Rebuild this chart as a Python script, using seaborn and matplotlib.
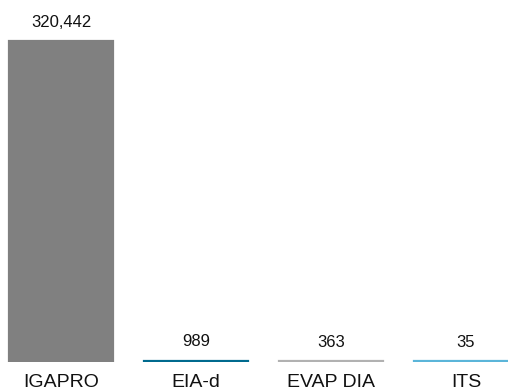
import matplotlib
matplotlib.use("Agg")
import matplotlib.pyplot as plt
import seaborn as sns
import pandas as pd

categories = ["IGAPRO", "EIA-d", "EVAP DIA", "ITS"]
values = [320442, 989, 363, 35]
colors = ["#808080", "#006a8e", "#b1b1b1", "#5bb5d9"]

sns.set_theme(style="white")
plt.rcParams["font.family"] = ["Liberation Sans", "DejaVu Sans"]

df = pd.DataFrame({"cat": categories, "val": values})

W, H = 508, 387
fig = plt.figure(figsize=(W / 100, H / 100), dpi=100)
spacing = 135.0
left_px = 61 - spacing / 2
bottom_px = H - 361.5
ax = fig.add_axes([left_px / W, bottom_px / H, 4 * spacing / W, 361.5 / H])

sns.barplot(data=df, x="cat", y="val", hue="cat", palette=colors,
            width=104 / spacing, legend=False, ax=ax, saturation=1)
for p, c in zip(ax.patches, colors):
    p.set_edgecolor(c)
    p.set_linewidth(1.6)

ax.set_xlim(-0.5, 3.5)
ax.set_ylim(0, values[0] * 361.5 / 320.5)
for i, v in enumerate(values):
    ax.annotate(f"{v:,}", (i, v), xytext=(0, 10.4), textcoords="offset points",
                ha="center", va="baseline", fontsize=12, color="#111111")

ax.set_xlabel("")
ax.set_ylabel("")
ax.set_yticks([])
ax.tick_params(axis="x", length=0, pad=9, labelsize=14, labelcolor="#111111")
sns.despine(ax=ax, left=True, bottom=True)

fig.savefig("out.png", dpi=100)
